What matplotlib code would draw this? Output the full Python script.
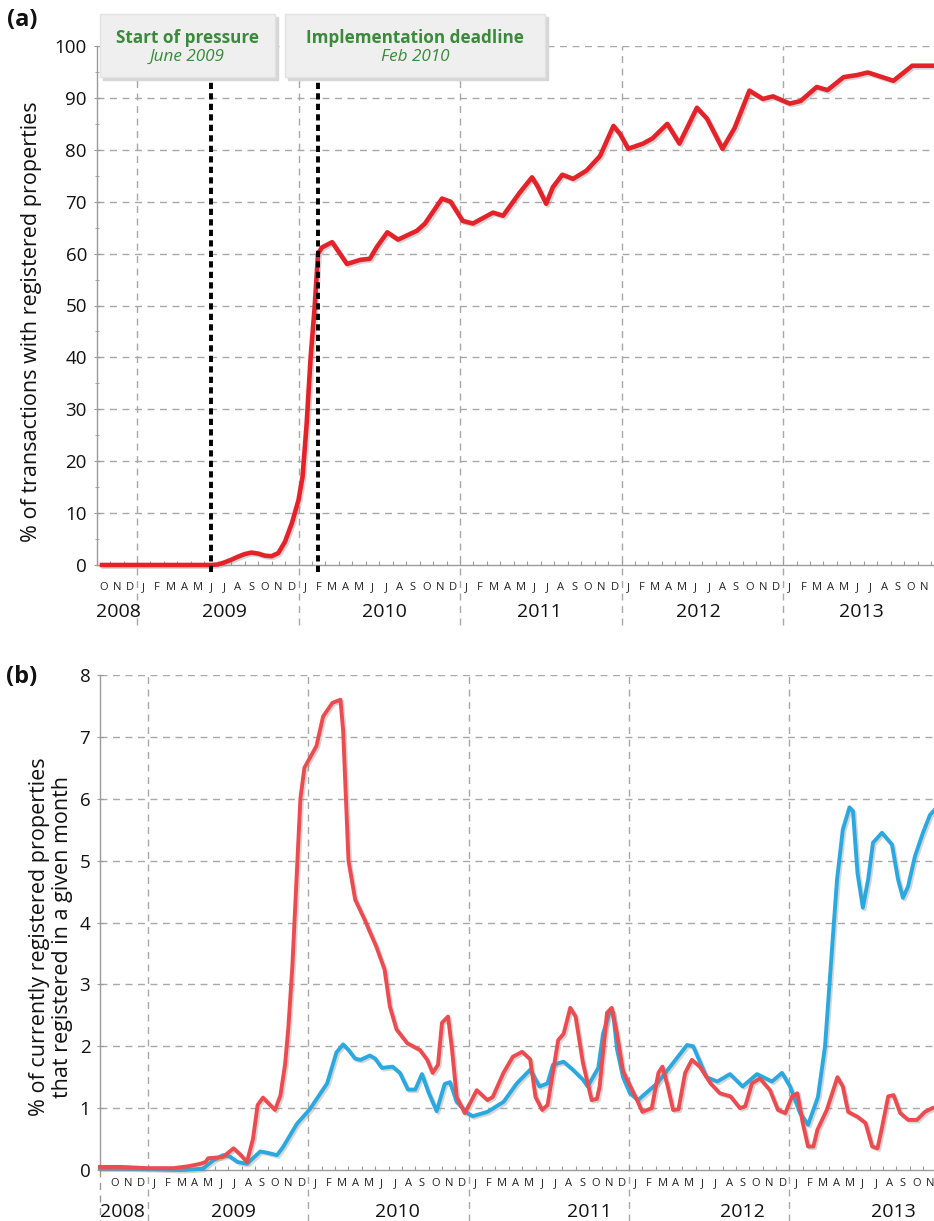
import matplotlib
matplotlib.use("Agg")
import matplotlib.pyplot as plt
import matplotlib.patheffects as pe
from matplotlib.patches import Rectangle
from matplotlib.transforms import blended_transform_factory

plt.rcParams['font.family'] = ['Open Sans', 'DejaVu Sans']

# x values are months counted from the start of Oct 2008 (0 = 1 Oct 2008)
month_letters = ['J', 'F', 'M', 'A', 'M', 'J', 'J', 'A', 'S', 'O', 'N', 'D']
years = ['2008', '2009', '2010', '2011', '2012', '2013']
year_starts = [3, 15, 27, 39, 51]          # Jan of 2009..2013

# (a) % of transactions with registered properties
a_month = [0.4, 8.5, 9.0, 9.5, 10.0, 10.5, 11.0, 11.5, 12.0, 12.5, 13.0, 13.5,
           14.0, 14.5, 15.0, 15.3, 15.6, 15.9, 16.2, 16.45, 16.75, 17.5, 18.6,
           19.6, 20.3, 20.8, 21.6, 22.4, 23.8, 24.4, 25.66, 26.3, 27.2, 27.96,
           29.45, 30.2, 31.45, 32.35, 32.8, 33.4, 33.9, 34.6, 35.4, 36.4, 37.4,
           38.4, 38.9, 39.5, 40.6, 41.3, 42.4, 43.3, 44.6, 45.35, 46.5, 47.4,
           48.5, 49.5, 50.25, 51.5, 52.3, 53.5, 54.3, 55.5, 56.5, 57.3, 59.2,
           60.6, 62.1, 63.0]
a_share = [0, 0, 0.1, 0.5, 1.0, 1.6, 2.1, 2.4, 2.2, 1.8, 1.7, 2.3,
           4.5, 8, 12.5, 17, 27, 40, 49.7, 60, 61.2, 62.2, 58,
           58.8, 59, 61.2, 64.1, 62.7, 64.4, 65.8, 70.6, 70, 66.3, 65.8,
           67.9, 67.3, 71.8, 74.7, 72.8, 69.6, 72.8, 75.2, 74.4, 76, 78.8,
           84.6, 83, 80.2, 81.2, 82.2, 85, 81.2, 88.1, 86, 80.2, 84.2,
           91.4, 89.8, 90.3, 88.9, 89.4, 92.1, 91.5, 94, 94.4, 94.9, 93.3,
           96.2, 96.2, 96.2]

# (b) % of currently registered properties that registered in a given month
b_red_month = [-0.6, 1.0, 2.9, 4.9, 6.0, 6.9, 7.3, 7.5, 8.6, 9.0, 9.4, 9.9,
               10.4, 10.85, 11.2, 11.6, 12.5, 12.9, 13.25, 13.5, 13.8, 14.0,
               14.4, 14.7, 15.6, 16.1, 16.8, 17.4, 17.6, 18.0, 18.5, 19.2, 20.1,
               20.7, 21.1, 21.6, 22.4, 23.35, 23.9, 24.3, 24.7, 25.0, 25.45,
               25.75, 26.1, 26.7, 27.1, 27.6, 28.4, 28.8, 29.6, 30.3, 31.0,
               31.6, 32.0, 32.5, 32.9, 33.7, 34.1, 34.6, 35.0, 35.55, 36.2,
               36.6, 36.8, 37.35, 37.7, 38.1, 38.55, 39.1, 39.6, 40.0, 40.7,
               41.2, 41.5, 41.9, 42.3, 42.7, 43.2, 43.7, 44.3, 45.1, 45.8, 46.6,
               47.3, 47.7, 48.2, 48.8, 49.55, 50.15, 50.7, 51.2, 51.6, 52.0,
               52.4, 52.8, 53.1, 53.8, 54.6, 55.0, 55.4, 56.1, 56.7, 57.2, 57.6,
               57.9, 58.4, 58.8, 59.3, 59.9, 60.55, 61.15, 61.7, 62.0]
b_red_val = [0.05, 0.05, 0.03, 0.03, 0.06, 0.1, 0.13, 0.19, 0.21, 0.28, 0.35, 0.25,
             0.13, 0.5, 1.05, 1.17, 0.97, 1.2, 1.7, 2.3, 3.3, 4.2,
             6.0, 6.5, 6.85, 7.33, 7.55, 7.6, 7.1, 5.0, 4.37, 4.05, 3.6,
             3.24, 2.64, 2.27, 2.05, 1.94, 1.78, 1.57, 1.7, 2.38, 2.48,
             1.95, 1.18, 0.92, 1.08, 1.29, 1.13, 1.18, 1.57, 1.83, 1.91,
             1.79, 1.18, 0.97, 1.05, 2.1, 2.2, 2.62, 2.48, 1.73, 1.13,
             1.15, 1.35, 2.54, 2.62, 2.2, 1.6, 1.35, 1.13, 0.94, 1.0,
             1.57, 1.67, 1.35, 0.97, 0.98, 1.57, 1.78, 1.67, 1.4, 1.24, 1.19,
             1.0, 1.03, 1.4, 1.48, 1.29, 0.97, 0.92, 1.19, 1.24, 0.76,
             0.38, 0.38, 0.65, 0.97, 1.5, 1.35, 0.94, 0.86, 0.76, 0.38, 0.35,
             0.65, 1.19, 1.21, 0.92, 0.81, 0.81, 0.94, 1.0, 1.02]

b_blue_month = [-0.6, 2.9, 5.5, 7.1, 7.9, 8.6, 9.1, 9.7, 10.4, 11.4, 11.9, 12.65,
                13.1, 14.15, 15.1, 16.4, 17.1, 17.6, 18.0, 18.5, 18.9, 19.6,
                20.0, 20.5, 21.3, 21.85, 22.45, 23.0, 23.5, 24.0, 24.6, 25.2,
                25.6, 26.1, 26.9, 27.3, 28.4, 29.6, 30.6, 31.6, 32.3, 32.9,
                33.3, 34.1, 34.8, 35.55, 35.9, 36.7, 37.05, 37.57, 37.8, 38.1,
                38.55, 39.07, 39.67, 41.1, 42.3, 43.34, 43.8, 44.8, 45.6, 46.56,
                47.5, 48.58, 49.7, 50.45, 51.05, 51.8, 52.4, 53.14, 53.67, 54.2,
                54.57, 55.0, 55.5, 55.76, 56.1, 56.5, 56.9, 57.26, 57.93, 58.68,
                59.13, 59.5, 59.88, 60.4, 61.0, 61.53, 62.0]
b_blue_val = [0.03, 0.02, 0.0, 0.02, 0.16, 0.24, 0.22, 0.13, 0.1, 0.3, 0.28, 0.24,
              0.37, 0.75, 0.98, 1.4, 1.9, 2.03, 1.94, 1.8, 1.78, 1.85,
              1.8, 1.65, 1.67, 1.57, 1.3, 1.3, 1.55, 1.25, 0.95, 1.39,
              1.42, 1.1, 0.92, 0.87, 0.94, 1.1, 1.4, 1.62, 1.35, 1.4,
              1.7, 1.75, 1.62, 1.46, 1.35, 1.65, 2.2, 2.57, 2.55, 1.95,
              1.5, 1.24, 1.13, 1.4, 1.73, 2.02, 2.0, 1.5, 1.43, 1.55,
              1.35, 1.55, 1.43, 1.57, 1.35, 0.92, 0.73, 1.18, 2.0, 3.6,
              4.7, 5.5, 5.86, 5.8, 4.8, 4.24, 4.7, 5.29, 5.45, 5.26,
              4.7, 4.4, 4.58, 5.07, 5.45, 5.74, 5.85]

pressure_month = 8.5    # June 2009
deadline_month = 16.45  # Feb 2010

W, H = 934, 1221
GRID = '#a8a8a8'
SPINE = '#9a9a9a'
GREEN = '#3b8a3b'

fig = plt.figure(figsize=(W / 100, H / 100), dpi=100)


def px_axes(left, top, right, bottom):
    return fig.add_axes([left / W, 1 - bottom / H, (right - left) / W, (bottom - top) / H])


def style_axis(ax, yticks, month_pad, year_y, year_pos, line_bottom):
    for s in ['top', 'right']:
        ax.spines[s].set_visible(False)
    for s in ['left', 'bottom']:
        ax.spines[s].set_color(SPINE)
        ax.spines[s].set_linewidth(1.0)
    ax.set_yticks(yticks)
    ax.tick_params(axis='y', labelsize=13.5, colors=SPINE, labelcolor='#111111',
                   length=4, direction='inout', pad=5)
    for yv in yticks[1:]:
        ax.axhline(yv, color=GRID, lw=1.0, ls=(0, (5, 4)), zorder=0)
    # month boundary ticks and centred month letters
    lo, hi = ax.get_xlim()
    ax.set_xticks(range(0, 64))
    ax.set_xticklabels([])
    ax.set_xticks([i + 0.5 for i in range(63)], minor=True)
    ax.set_xticklabels([month_letters[(9 + i) % 12] for i in range(63)], minor=True)
    ax.tick_params(axis='x', which='major', direction='in', length=3, colors=SPINE)
    ax.tick_params(axis='x', which='minor', length=0, pad=month_pad,
                   labelsize=8, labelcolor='#222222')
    ax.set_xlim(lo, hi)
    for ys in year_starts:
        ax.axvline(ys, ymin=line_bottom, ymax=1, color=GRID, lw=1.0,
                   ls=(0, (5, 4)), clip_on=False, zorder=0)
    tr = blended_transform_factory(ax.transData, ax.transAxes)
    for yr, xp in zip(years, year_pos):
        ax.text(xp, year_y, yr, transform=tr, ha='center', va='center',
                fontsize=14, color='#111111')


shadow = [pe.SimpleLineShadow(offset=(1.2, -1.2), shadow_color='#888888', alpha=0.35),
          pe.Normal()]

# ---------------- panel (a) ----------------
ax_a = px_axes(96.6, 46, 934, 565)
ax_a.set_xlim(0, (934 - 96.6) / 13.46)
ax_a.set_ylim(0, 100)
style_axis(ax_a, list(range(0, 101, 10)), month_pad=12, year_y=-47 / 519,
           year_pos=[1.6, 9.5, 21.4, 32.9, 44.7, 56.8], line_bottom=-60 / 519)
ax_a.set_yticks(range(5, 100, 10), minor=True)
ax_a.tick_params(axis='y', which='minor', length=3, direction='inout', colors=SPINE)
ax_a.plot(a_month, a_share, color='#e4222a', lw=3.3, solid_joinstyle='round',
          clip_on=False, zorder=3, path_effects=shadow)
for xm in [pressure_month, deadline_month]:
    ax_a.plot([xm, xm], [-1.3, 93.8], color='black', lw=2.8, ls=(0, (1.6, 1.1)),
              clip_on=False, zorder=4)

# annotation boxes
for (l, r), title, sub in [((100, 275), 'Start of pressure', 'June 2009'),
                           ((285, 545), 'Implementation deadline', 'Feb 2010')]:
    fig.patches.append(Rectangle(((l + 3) / W, 1 - 80 / H), (r - l) / W, 63 / H,
                                 transform=fig.transFigure, color='#d6d6d6', zorder=5))
    fig.patches.append(Rectangle((l / W, 1 - 77 / H), (r - l) / W, 63 / H,
                                 transform=fig.transFigure, facecolor='#efefef',
                                 edgecolor='#e2e2e2', zorder=6))
    cx = (l + r) / 2 / W
    fig.text(cx, 1 - 38 / H, title, ha='center', va='center', fontsize=12.3,
             fontweight='bold', color=GREEN, zorder=7)
    fig.text(cx, 1 - 57 / H, sub, ha='center', va='center', fontsize=12.3,
             style='italic', color=GREEN, zorder=7)

fig.text(22 / W, 1 - 20 / H, '(a)', ha='center', va='center', fontsize=17,
         fontweight='bold', color='#111111')
fig.text(32 / W, 1 - 322 / H, '% of transactions with registered properties',
         rotation=90, ha='center', va='center', fontsize=15.5, color='#111111')

# ---------------- panel (b) ----------------
ax_b = px_axes(100, 675, 934, 1170)
ax_b.set_xlim((100 - 108) / 13.36, (934 - 108) / 13.36)
ax_b.set_ylim(0, 8)
style_axis(ax_b, list(range(0, 9)), month_pad=6, year_y=-42 / 495,
           year_pos=[1.1, 9.4, 21.7, 36.0, 47.5, 58.8], line_bottom=-51 / 495)
ax_b.plot([ax_b.get_xlim()[0]] * 2, [0, -51 / 495 * 8], color=SPINE, lw=1.0,
          ls=(0, (5, 4)), clip_on=False)
ax_b.plot(b_blue_month, b_blue_val, color='#2aa8e0', lw=2.8, solid_joinstyle='round',
          clip_on=False, zorder=3, path_effects=shadow)
ax_b.plot(b_red_month, b_red_val, color='#ec4b50', lw=2.8, solid_joinstyle='round',
          clip_on=False, zorder=4, path_effects=shadow)

fig.text(22 / W, 1 - 677 / H, '(b)', ha='center', va='center', fontsize=17,
         fontweight='bold', color='#111111')
fig.text(51 / W, 1 - 937 / H,
         '% of currently registered properties\nthat registered in a given month',
         rotation=90, ha='center', va='center', fontsize=15.5, color='#111111',
         linespacing=1.12)

fig.savefig('out.png', dpi=100)
